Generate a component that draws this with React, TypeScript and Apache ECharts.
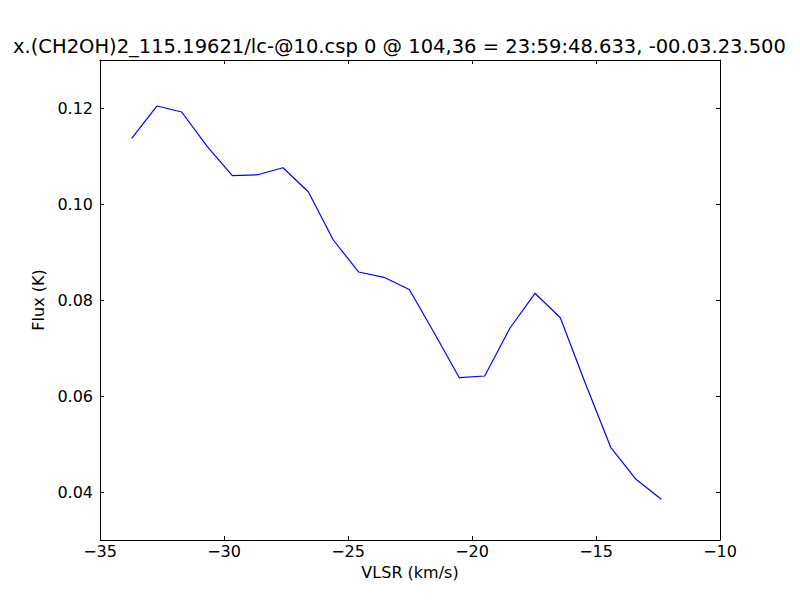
import React, { useEffect, useRef } from "react";
import * as echarts from "echarts";

const velocities = [
  -33.722, -32.702, -31.706, -30.673, -29.665, -28.645, -27.621, -26.601,
  -25.593, -24.569, -23.548, -22.528, -21.51, -20.512, -19.488, -18.468,
  -17.46, -16.44, -15.431, -14.407, -13.387, -12.367,
];
const flux = [
  0.11369, 0.12042, 0.11917, 0.11194, 0.1059, 0.1061, 0.10756, 0.10256,
  0.0925, 0.08583, 0.08473, 0.08219, 0.07302, 0.06381, 0.06417, 0.07417,
  0.0814, 0.07631, 0.06265, 0.04931, 0.04265, 0.03848,
];
const xTicks = [-35, -30, -25, -20, -15, -10];
const yTicks = [0.04, 0.06, 0.08, 0.1, 0.12];
const titleText =
  "x.(CH2OH)2_115.19621/lc-@10.csp 0 @ 104,36 = 23:59:48.633, -00.03.23.500";
const xName = "VLSR (km/s)";
const yName = "Flux (K)";

const FONT = "DejaVu Sans";

export default function App() {
  const ref = useRef<HTMLDivElement>(null);
  useEffect(() => {
    if (!ref.current) return;
    const chart = echarts.init(ref.current, null, { renderer: "svg" });
    const axisLine = { show: true, lineStyle: { color: "#000", width: 1 } };
    const tick = { show: true, inside: true, length: 4, lineStyle: { color: "#000", width: 1 } };
    const labelStyle = { color: "#000", fontFamily: FONT, fontSize: 16 };
    chart.setOption({
      animation: false,
      backgroundColor: "#fff",
      grid: { left: 100, top: 60, width: 620, height: 480, containLabel: false },
      graphic: [
        {
          type: "text",
          x: 13,
          y: 46,
          style: {
            text: titleText,
            fontFamily: FONT,
            fontSize: 19.5,
            fill: "#000",
            textAlign: "left",
            textVerticalAlign: "middle",
          },
        },
      ],
      xAxis: [
        {
          type: "value",
          min: -35,
          max: -10,
          interval: 5,
          position: "bottom",
          name: xName,
          nameLocation: "middle",
          nameGap: 24,
          nameTextStyle: labelStyle,
          axisLine,
          axisTick: { ...tick, customValues: xTicks },
          axisLabel: {
            ...labelStyle,
            margin: 3,
            customValues: xTicks,
            formatter: (v: number) => String(v).replace("-", "\u2212"),
          },
          splitLine: { show: false },
        },
        {
          type: "value",
          min: -35,
          max: -10,
          interval: 5,
          position: "top",
          axisLine,
          axisTick: { ...tick, customValues: xTicks },
          axisLabel: { show: false },
          splitLine: { show: false },
        },
      ],
      yAxis: [
        {
          type: "value",
          min: 0.03,
          max: 0.13,
          interval: 0.01,
          position: "left",
          name: yName,
          nameLocation: "middle",
          nameGap: 48,
          nameRotate: 90,
          nameTextStyle: labelStyle,
          axisLine,
          axisTick: { ...tick, customValues: yTicks },
          axisLabel: {
            ...labelStyle,
            margin: 7,
            customValues: yTicks,
            formatter: (v: number) => v.toFixed(2),
          },
          splitLine: { show: false },
        },
        {
          type: "value",
          min: 0.03,
          max: 0.13,
          interval: 0.01,
          position: "right",
          axisLine,
          axisTick: { ...tick, customValues: yTicks },
          axisLabel: { show: false },
          splitLine: { show: false },
        },
      ],
      series: [
        {
          type: "line",
          xAxisIndex: 0,
          yAxisIndex: 0,
          data: velocities.map((v, i) => [v, flux[i]]),
          showSymbol: false,
          symbol: "none",
          lineStyle: { color: "#0000ff", width: 1.2 },
        },
      ],
    });
    return () => chart.dispose();
  }, []);
  return (
    <div
      ref={ref}
      style={{ position: "fixed", left: 0, top: 0, width: 800, height: 600, background: "#fff" }}
    />
  );
}
